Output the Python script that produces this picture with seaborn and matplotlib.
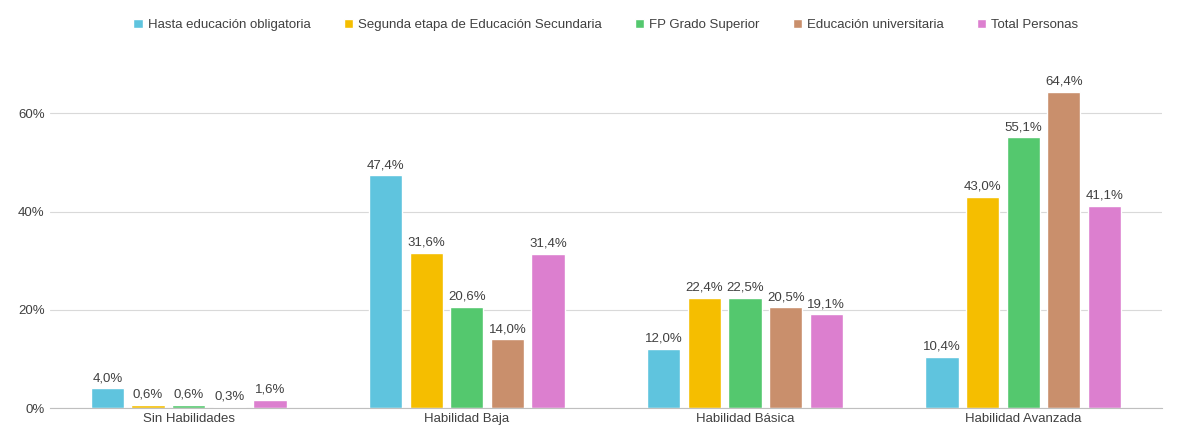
import pandas as pd
import matplotlib
matplotlib.use("Agg")
import matplotlib.pyplot as plt
import seaborn as sns

categories = ["Sin Habilidades", "Habilidad Baja", "Habilidad Básica", "Habilidad Avanzada"]
series = ["Hasta educación obligatoria", "Segunda etapa de Educación Secundaria",
          "FP Grado Superior", "Educación universitaria", "Total Personas"]
values = {
    "Hasta educación obligatoria": [4.0, 47.4, 12.0, 10.4],
    "Segunda etapa de Educación Secundaria": [0.6, 31.6, 22.4, 43.0],
    "FP Grado Superior": [0.6, 20.6, 22.5, 55.1],
    "Educación universitaria": [0.3, 14.0, 20.5, 64.4],
    "Total Personas": [1.6, 31.4, 19.1, 41.1],
}
colors = ["#5FC4DE", "#F5BE00", "#54C86E", "#C98F6C", "#DC7FCF"]

rows = [(c, s, values[s][i]) for s in series for i, c in enumerate(categories)]
df = pd.DataFrame(rows, columns=["cat", "serie", "val"])

sns.set_style("white")
plt.rcParams["font.family"] = ["Liberation Sans", "DejaVu Sans"]
fig, ax = plt.subplots(figsize=(11.8, 4.43), dpi=100)
sns.barplot(data=df, x="cat", y="val", hue="serie", hue_order=series, order=categories,
            palette=colors, width=0.73, gap=0.18, ax=ax, saturation=1)

for cont in ax.containers:
    ax.bar_label(cont, labels=[f"{v:.1f}%".replace(".", ",") for v in cont.datavalues],
                 padding=3, fontsize=9.5, color="#404040")

ax.set_ylim(0, 70)
ax.set_yticks([0, 20, 40, 60])
ax.set_yticklabels(["0%", "20%", "40%", "60%"])
ax.yaxis.grid(True, color="#D9D9D9", linewidth=0.8)
ax.set_axisbelow(True)
ax.set_xlabel("")
ax.set_ylabel("")
for s in ["top", "right", "left"]:
    ax.spines[s].set_visible(False)
ax.spines["bottom"].set_color("#BFBFBF")
ax.tick_params(axis="both", labelsize=9.5, colors="#404040", length=0)
ax.set_xlim(-0.5, 3.5)

ax.legend(loc="center", bbox_to_anchor=(0.5, 1.115), ncol=5, frameon=False,
          fontsize=9.5, handlelength=0.7, handleheight=0.7, columnspacing=2.5,
          handletextpad=0.4, labelcolor="#404040")
fig.subplots_adjust(left=0.042, right=0.985, top=0.855, bottom=0.079)
fig.savefig("out.png", dpi=100)
